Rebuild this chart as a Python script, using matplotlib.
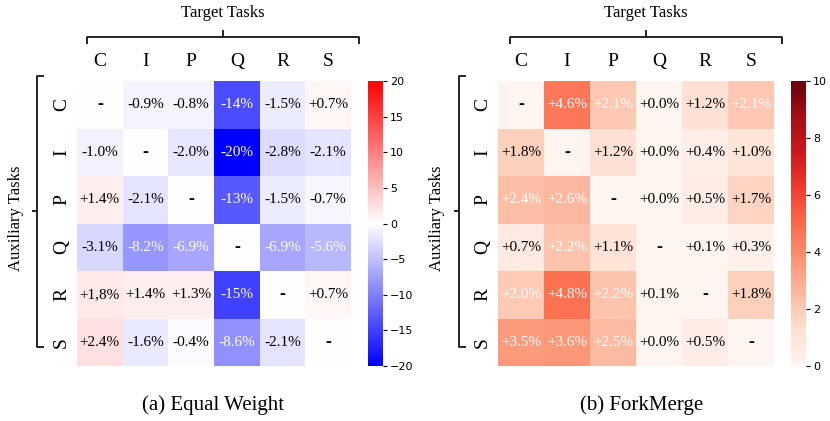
import numpy as np
import matplotlib
matplotlib.use("Agg")
import matplotlib.pyplot as plt
import seaborn as sns

# DATA
tasks = ["C", "I", "P", "Q", "R", "S"]

# (a) Equal Weight, rows = auxiliary task, cols = target task
ew_vals = np.array([
    [0.0, -0.9, -0.8, -14, -1.5, 0.7],
    [-1.0, 0.0, -2.0, -20, -2.8, -2.1],
    [1.4, -2.1, 0.0, -13, -1.5, -0.7],
    [-3.1, -8.2, -6.9, 0.0, -6.9, -5.6],
    [1.8, 1.4, 1.3, -15, 0.0, 0.7],
    [2.4, -1.6, -0.4, -8.6, -2.1, 0.0],
])
ew_text = [
    ["-", "-0.9%", "-0.8%", "-14%", "-1.5%", "+0.7%"],
    ["-1.0%", "-", "-2.0%", "-20%", "-2.8%", "-2.1%"],
    ["+1.4%", "-2.1%", "-", "-13%", "-1.5%", "-0.7%"],
    ["-3.1%", "-8.2%", "-6.9%", "-", "-6.9%", "-5.6%"],
    ["+1,8%", "+1.4%", "+1.3%", "-15%", "-", "+0.7%"],
    ["+2.4%", "-1.6%", "-0.4%", "-8.6%", "-2.1%", "-"],
]

# (b) ForkMerge
fm_vals = np.array([
    [0.0, 4.6, 2.1, 0.0, 1.2, 2.1],
    [1.8, 0.0, 1.2, 0.0, 0.4, 1.0],
    [2.4, 2.6, 0.0, 0.0, 0.5, 1.7],
    [0.7, 2.2, 1.1, 0.0, 0.1, 0.3],
    [2.0, 4.8, 2.2, 0.1, 0.0, 1.8],
    [3.5, 3.6, 2.5, 0.0, 0.5, 0.0],
])
fm_text = [
    ["-", "+4.6%", "+2.1%", "+0.0%", "+1.2%", "+2.1%"],
    ["+1.8%", "-", "+1.2%", "+0.0%", "+0.4%", "+1.0%"],
    ["+2.4%", "+2.6%", "-", "+0.0%", "+0.5%", "+1.7%"],
    ["+0.7%", "+2.2%", "+1.1%", "-", "+0.1%", "+0.3%"],
    ["+2.0%", "+4.8%", "+2.2%", "+0.1%", "-", "+1.8%"],
    ["+3.5%", "+3.6%", "+2.5%", "+0.0%", "+0.5%", "-"],
]

W, H = 830, 421
SERIF = ["Liberation Serif", "DejaVu Serif"]

fig = plt.figure(figsize=(W / 100, H / 100), dpi=100)


def px(x0, y_top, w, h):
    return [x0 / W, (H - y_top - h) / H, w / W, h / H]


def bracket(ax, top_x, left_x, left_tick):
    kw = dict(transform=ax.transAxes, clip_on=False, color="black", lw=1.2,
              solid_capstyle="butt", solid_joinstyle="round")
    # top bracket
    x0, x1 = top_x
    xm = (x0 + x1) / 2
    ax.plot([x0, x0, x1, x1], [1.130, 1.154, 1.154, 1.130], **kw)
    ax.plot([xm, xm], [1.154, 1.179], **kw)
    # left bracket
    ax.plot([left_x + 0.026, left_x, left_x, left_x + 0.026],
            [1.018, 1.018, 0.067, 0.067], **kw)
    ax.plot([left_x, left_tick], [0.544, 0.544], **kw)
    return xm


def panel(ax_rect, cb_rect, vals, text, cmap, vmin, vmax, ticks, white_if,
          top_x, left_x, left_tick, ylab_x, caption, cap_x):
    ax = fig.add_axes(px(*ax_rect))
    cax = fig.add_axes(px(*cb_rect))
    sns.heatmap(vals, ax=ax, cbar_ax=cax, cmap=cmap, vmin=vmin, vmax=vmax,
                annot=False, square=False)
    for i in range(len(tasks)):
        for j in range(len(tasks)):
            lab = text[i][j]
            dash = lab == "-"
            col = "white" if (not dash and white_if(vals[i, j])) else "black"
            ax.text(j + 0.5, i + 0.5, lab, ha="center", va="center",
                    color=col, family=SERIF,
                    fontsize=13 if dash else 11,
                    fontweight="bold" if dash else "normal")
    ax.xaxis.tick_top()
    ax.set_xticks(np.arange(len(tasks)) + 0.5)
    ax.set_xticklabels(tasks, family=SERIF, fontsize=14)
    ax.set_yticks(np.arange(len(tasks)) + 0.5)
    ax.set_yticklabels(tasks, family=SERIF, fontsize=14, rotation=90,
                       va="center")
    ax.tick_params(axis="both", length=0)
    ax.tick_params(axis="x", pad=8)
    ax.tick_params(axis="y", pad=5)

    cax.set_yticks(ticks)
    cax.tick_params(labelsize=8, length=3, width=0.8, pad=2)
    for t in cax.get_yticklabels():
        t.set_family("DejaVu Sans")

    xm = bracket(ax, top_x, left_x, left_tick)
    ax.text(xm, 1.239, "Target Tasks", transform=ax.transAxes, ha="center",
            va="center", family=SERIF, fontsize=12)
    ax.text(ylab_x, 0.52, "Auxiliary Tasks", transform=ax.transAxes,
            ha="center", va="center", rotation=90, family=SERIF, fontsize=12)
    fig.text(cap_x / W, 1 - 405 / H, caption, ha="center", va="center",
             family=SERIF, fontsize=15)


panel((77, 81, 274, 285), (368, 81, 15, 285), ew_vals, ew_text, "bwr",
      -20, 20, [-20, -15, -10, -5, 0, 5, 10, 15, 20], lambda v: v <= -5,
      (0.036, 1.029), -0.146, -0.164, -0.223, "(a) Equal Weight", 213)

panel((498, 81, 276, 285), (791, 81, 15, 285), fm_vals, fm_text, "Reds",
      0, 10, [0, 2, 4, 6, 8, 10], lambda v: v >= 2,
      (0.043, 1.029), -0.141, -0.159, -0.221, "(b) ForkMerge", 642)

fig.savefig("out.png", dpi=100)
